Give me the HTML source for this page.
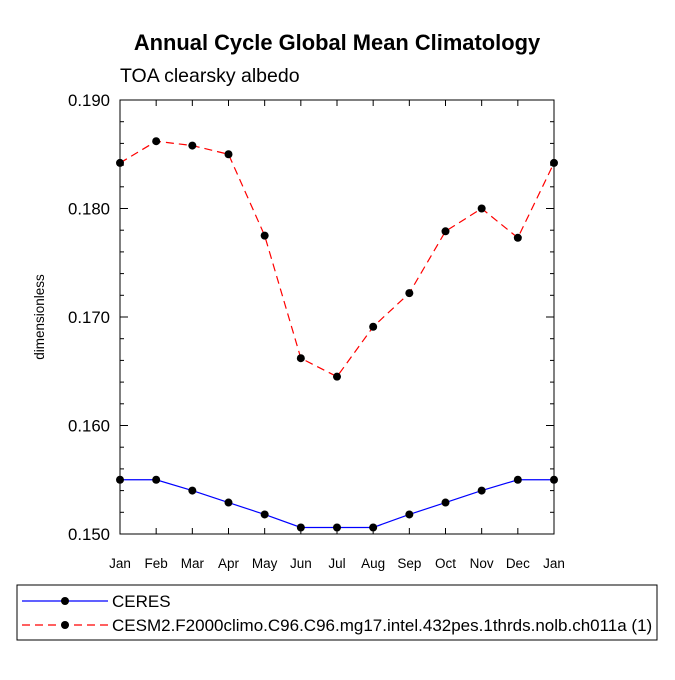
<!DOCTYPE html>
<html><head><meta charset="utf-8"><style>
body{margin:0;background:#fff}
svg text{font-family:"Liberation Sans",sans-serif;fill:#000}
</style></head><body>
<svg id="c" width="675" height="675" xmlns="http://www.w3.org/2000/svg">
<text x="337" y="50" font-size="21.9" font-weight="bold" text-anchor="middle">Annual Cycle Global Mean Climatology</text>
<text x="120" y="82" font-size="19.5">TOA clearsky albedo</text>
<text x="0" y="0" font-size="13.5" text-anchor="middle" transform="translate(44,317) rotate(-90)">dimensionless</text>
<rect x="120" y="100" width="434" height="434" fill="none" stroke="#000" stroke-width="1"/>
<g id="ax"></g><g id="series"></g>
<rect x="17" y="585" width="640" height="55" fill="none" stroke="#000"/>
<g>
<line x1="22" y1="601" x2="108" y2="601" stroke="#00f" stroke-width="1.2"/>
<circle cx="65" cy="601" r="4" fill="#000"/>
<text x="112" y="607" font-size="17">CERES</text></g>
<g>
<line x1="22" y1="625" x2="108" y2="625" stroke="#f00" stroke-width="1.2" stroke-dasharray="8,5"/>
<circle cx="65" cy="625" r="4" fill="#000"/>
<text x="112" y="631" font-size="17">CESM2.F2000climo.C96.C96.mg17.intel.432pes.1thrds.nolb.ch011a (1)</text></g>
</svg>
<script>
const months=["Jan","Feb","Mar","Apr","May","Jun","Jul","Aug","Sep","Oct","Nov","Dec","Jan"];
const ceres=[0.1550,0.1550,0.1540,0.1529,0.1518,0.1506,0.1506,0.1506,0.1518,0.1529,0.1540,0.1550,0.1550];
const cesm=[0.1842,0.1862,0.1858,0.1850,0.1775,0.1662,0.1645,0.1691,0.1722,0.1779,0.1800,0.1773,0.1842];
const yTicks=[0.150,0.160,0.170,0.180,0.190];
const NS="http://www.w3.org/2000/svg";
const x0=120,x1=554,y0=534,y1=100,ymin=0.150,ymax=0.190;
const xs=i=>x0+i*(x1-x0)/(months.length-1);
const ys=v=>y0-(v-ymin)/(ymax-ymin)*(y0-y1);
const ax=document.getElementById('ax'),sg=document.getElementById('series');
function mk(t,a,p){const e=document.createElementNS(NS,t);for(const k in a)e.setAttribute(k,a[k]);p.appendChild(e);return e;}
months.forEach((m,i)=>{const x=xs(i);
 mk('line',{x1:x,y1:y0,x2:x,y2:y0-6,stroke:'#000'},ax);
 mk('line',{x1:x,y1:y1,x2:x,y2:y1+6,stroke:'#000'},ax);
 const t=mk('text',{x:x,y:568,'font-size':13.5,'text-anchor':'middle'},ax);t.textContent=m;
 
 
});
for(let v=ymin;v<=ymax+1e-9;v+=0.002){const y=ys(v);const maj=Math.abs(Math.round(v*100)-v*100)<1e-6;const L=maj?8:4;
 mk('line',{x1:x0,y1:y,x2:x0+L,y2:y,stroke:'#000'},ax);
 mk('line',{x1:x1,y1:y,x2:x1-L,y2:y,stroke:'#000'},ax);}
yTicks.forEach(v=>{const t=mk('text',{x:110,y:ys(v)+6,'font-size':16.8,'text-anchor':'end'},ax);t.textContent=v.toFixed(3);
 
 });
function series(d,col,dash,name){
 const p=mk('polyline',{points:d.map((v,i)=>xs(i)+','+ys(v)).join(' '),fill:'none',stroke:col,'stroke-width':1.2,'stroke-dasharray':dash},sg);
 
 
 d.forEach((v,i)=>{const c=mk('circle',{cx:xs(i),cy:ys(v),r:4,fill:'#000'},sg);
  
  });
}
series(ceres,'#00f','none','ceres');
series(cesm,'#f00','8,5','cesm2');
</script>
</body></html>
